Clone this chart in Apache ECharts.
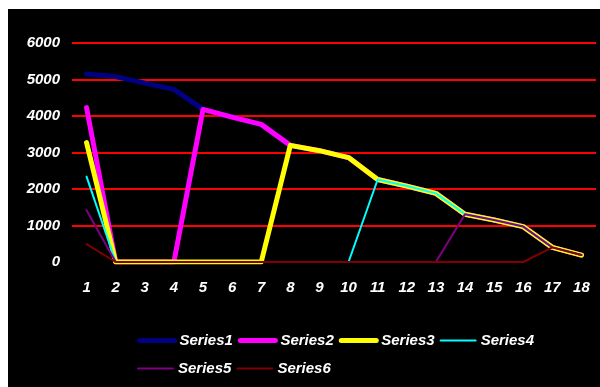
<!DOCTYPE html>
<html>
<head>
<meta charset="utf-8">
<script src="https://cdn.jsdelivr.net/npm/echarts@6/dist/echarts.min.js"></script>
<style>
  html, body { margin: 0; padding: 0; background: #ffffff; }
  #chart { width: 600px; height: 387px; }
</style>
</head>
<body>
<div id="chart"></div>
<script>
// Categories along the x axis
const categories = ['1','2','3','4','5','6','7','8','9','10','11','12','13','14','15','16','17','18'];

// Series values
const series1 = [5150, 5080, 4900, 4730, 4180, 3970, 3770, 3195, 3050, 2860, 2260, 2080, 1880, 1310, 1150, 970, 400, 190];
const series2 = [4230, 0, 0, 0, 4180, 3970, 3770, 3195, 3050, 2860, 2260, 2080, 1880, 1310, 1150, 970, 400, 190];
const series3 = [3270, 0, 0, 0, 0, 0, 0, 3195, 3050, 2860, 2260, 2080, 1880, 1310, 1150, 970, 400, 190];
const series4 = [2340, 0, 0, 0, 0, 0, 0, 0, 0, 0, 2260, 2080, 1880, 1310, 1150, 970, 400, 190];
const series5 = [1420, 0, 0, 0, 0, 0, 0, 0, 0, 0, 0, 0, 0, 1310, 1150, 970, 400, 190];
const series6 = [490, 0, 0, 0, 0, 0, 0, 0, 0, 0, 0, 0, 0, 0, 0, 0, 400, 190];

const seriesNames = ['Series1', 'Series2', 'Series3', 'Series4', 'Series5', 'Series6'];
const seriesData = [series1, series2, series3, series4, series5, series6];
const seriesColors = ['#000080', '#ff00ff', '#ffff00', '#00ffff', '#800080', '#800000'];
const seriesWidths = [5, 5, 5, 2, 2, 2];

const labelFont = {
  color: '#ffffff',
  fontFamily: '"Liberation Sans", Arial, sans-serif',
  fontWeight: 'bold',
  fontStyle: 'italic',
  fontSize: 15
};

// Legend entries drawn as plain line segments in each series' own width
function legendItems(names) {
  return names.map(name => {
    const i = seriesNames.indexOf(name);
    return {
      name: name,
      itemStyle: { opacity: 0 },
      lineStyle: { color: seriesColors[i], width: seriesWidths[i], cap: 'round' }
    };
  });
}

const chart = echarts.init(document.getElementById('chart'), null, { renderer: 'canvas' });

chart.setOption({
  backgroundColor: '#ffffff',
  animation: false,
  graphic: [{
    type: 'rect',
    z: -10,
    silent: true,
    shape: { x: 8, y: 9, width: 592, height: 378 },
    style: { fill: '#000000' }
  }],
  grid: { left: 72, right: 4, top: 43, bottom: 125 },
  legend: [{
    data: legendItems(seriesNames.slice(0, 4)),
    left: 132, top: 328,
    itemWidth: 35, itemHeight: 14, itemGap: 5,
    itemStyle: { opacity: 0 },
    textStyle: Object.assign({}, labelFont, { padding: 0 })
  }, {
    data: legendItems(seriesNames.slice(4)),
    left: 132, top: 356,
    itemWidth: 35, itemHeight: 14, itemGap: 5,
    itemStyle: { opacity: 0 },
    textStyle: Object.assign({}, labelFont, { padding: 0 })
  }],
  xAxis: {
    type: 'category',
    data: categories,
    boundaryGap: true,
    axisLine: { show: false },
    axisTick: { show: false },
    axisLabel: Object.assign({}, labelFont, { margin: 18 }),
    splitLine: { show: false }
  },
  yAxis: {
    type: 'value',
    min: 0, max: 6000, interval: 1000,
    axisLine: { show: false },
    axisTick: { show: false },
    axisLabel: Object.assign({}, labelFont, { margin: 12, formatter: v => String(v) }),
    splitLine: { show: true, showMinLine: false, lineStyle: { color: '#ff0000', width: 2 } }
  },
  series: seriesNames.map((name, i) => ({
    name: name,
    type: 'line',
    data: seriesData[i],
    symbol: 'none',
    color: seriesColors[i],
    z: 2 + i,
    lineStyle: { color: seriesColors[i], width: seriesWidths[i], cap: 'round', join: 'round' }
  }))
});
</script>
</body>
</html>
